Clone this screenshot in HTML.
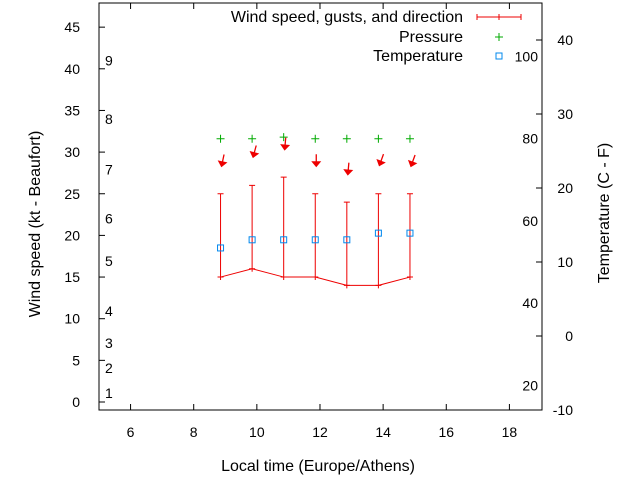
<!DOCTYPE html>
<html><head><meta charset="utf-8"><style>
body{margin:0;background:#fff}
svg{font-family:"Liberation Sans",sans-serif;font-size:14px}
.big{font-size:16px}
</style></head><body>
<svg id="c" width="640" height="480" xmlns="http://www.w3.org/2000/svg">
<rect x="99" y="3" width="443" height="407" fill="none" stroke="#000"/>
<text class="big" x="318" y="471" text-anchor="middle">Local time (Europe/Athens)</text>
<text class="big" transform="translate(40,224) rotate(-90)" text-anchor="middle">Wind speed (kt - Beaufort)</text>
<text class="big" transform="translate(609,213) rotate(-90)" text-anchor="middle">Temperature (C - F)</text>
<g>
<text class="big" x="463" y="22" text-anchor="end">Wind speed, gusts, and direction</text>
<path d="M477,17H521M477,14V20M521,14V20M499,14V20" stroke="#e00"/>
<text class="big" x="463" y="42" text-anchor="end">Pressure</text>
<path d="M495,37H503M499,33V41" stroke="#0a0"/>
<text class="big" x="463" y="61" text-anchor="end">Temperature</text>
<rect x="496" y="53" width="6" height="6" fill="none" stroke="#08e"/>
</g>
<g id="g"></g>
</svg>
<script>
const hours=[8.85,9.85,10.85,11.85,12.85,13.85,14.85];
const wind=[15,16,15,15,14,14,15];
const gusts=[25,26,27,25,24,25,25];
const temps=[11.9,13,13,13,13,13.9,13.9];
const pressure=[31.6,31.6,31.8,31.6,31.6,31.6,31.6];
const arrowKt=[28.3,29.4,30.3,28.3,27.3,28.4,28.3];
const windDir=[348,345,355,0,355,340,340];
const xTicks=[6,8,10,12,14,16,18];
const yTicks=[0,5,10,15,20,25,30,35,40,45];
const y2Ticks=[-10,0,10,20,30,40];
const fTicks=[20,40,60,80,100];
const beaufortLabels=["1","2","3","4","5","6","7","8","9"];
const beaufortKt=[1.1,4.1,7.1,10.9,16.9,22,27.9,34,41];
const X=h=>99+(h-5)*31.57;
const Y=k=>402-k*8.33;
const T=c=>336-c*7.4;
const g=document.getElementById('g');
const NS='http://www.w3.org/2000/svg';
function mk(tag,a,txt){const e=document.createElementNS(NS,tag);for(const k in a)e.setAttribute(k,a[k]);if(txt!=null)e.textContent=txt;g.appendChild(e);return e;}
xTicks.forEach(v=>{const x=X(v);
const e=mk('path',{d:`M${x},410V404M${x},3V9`,stroke:'#000'});


const t=mk('text',{x:x,y:437,'text-anchor':'middle'},v);

});
yTicks.forEach(v=>{const y=Y(v);
const e=mk('path',{d:`M99,${y}H105`,stroke:'#000'});


const t=mk('text',{x:80,y:y+5,'text-anchor':'end'},v);

});
y2Ticks.forEach(v=>{const y=T(v);
const e=mk('path',{d:`M542,${y}H536`,stroke:'#000'});


const t=mk('text',{x:573,y:y+5,'text-anchor':'end'},v);

});
fTicks.forEach(v=>{const y=T((v-32)*5/9);
const t=mk('text',{x:538,y:y+5,'text-anchor':'end'},v);

});
beaufortLabels.forEach((s,i)=>{const t=mk('text',{x:105,y:Y(beaufortKt[i])+5},s);

});
const line=mk('polyline',{points:hours.map((h,i)=>X(h)+','+Y(wind[i])).join(' '),fill:'none',stroke:'#e00'});


hours.forEach((h,i)=>{const x=X(h),y1=Y(wind[i]),y2=Y(gusts[i]);
const e=mk('path',{d:`M${x},${y1+3}V${y2}M${x-3},${y1}H${x+3}M${x-3},${y2}H${x+3}`,stroke:'#e00'});


const ty=T(temps[i]);
const s=mk('rect',{x:x-3,y:ty-3,width:6,height:6,fill:'none',stroke:'#08e'});


const py=Y(pressure[i]);
const p=mk('path',{d:`M${x-4},${py}H${x+4}M${x},${py-4}V${py+4}`,stroke:'#0a0'});


const ay=Y(arrowKt[i]),r=windDir[i]*Math.PI/180;
const dx=-Math.sin(r)*12,dy=Math.cos(r)*12;
const a=mk('g',{transform:`translate(${x+1},${ay})`});


const l=document.createElementNS(NS,'path');
l.setAttribute('d',`M${dx},${-dy}L0,0`);l.setAttribute('stroke','#e00');l.setAttribute('stroke-width','1.3');a.appendChild(l);
const hd=document.createElementNS(NS,'path');
hd.setAttribute('d','M0,1L-5,-5L5,-5Z');hd.setAttribute('fill','#e00');
hd.setAttribute('transform',`rotate(${-windDir[i]})`);a.appendChild(hd);
});
</script>
</body></html>
